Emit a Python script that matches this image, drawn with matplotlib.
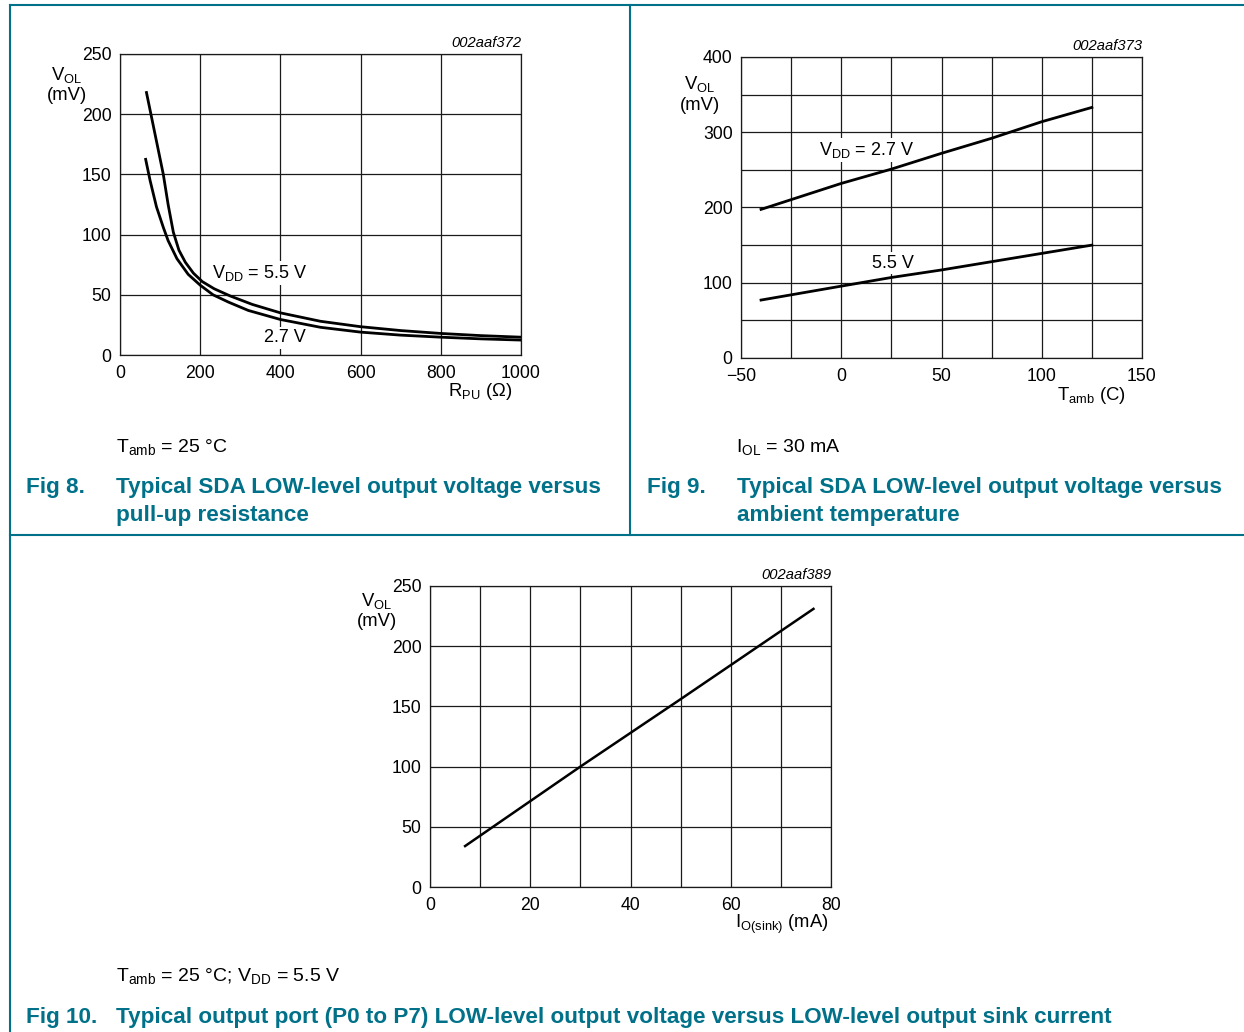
import matplotlib
matplotlib.use("Agg")
import matplotlib.pyplot as plt
from matplotlib.lines import Line2D

# Fig 8: VOL vs pull-up resistance (Tamb = 25 C)
r_pu_55 = [66, 87, 108, 120, 133, 147, 163, 183, 205, 235, 275, 330, 400, 500, 600, 700, 800, 900, 1000]
vol_r_55 = [218, 184, 150, 125, 102, 87, 77, 68, 61, 55, 49, 42, 35, 28, 23.5, 20.3, 17.9, 16.1, 14.8]
r_pu_27 = [64, 75, 91, 108, 120, 142, 170, 200, 232, 270, 320, 400, 500, 600, 700, 800, 900, 1000]
vol_r_27 = [162.5, 145, 123, 106, 95, 80, 67, 58, 50, 44, 37, 29.5, 23, 19, 16.5, 14.8, 13.4, 12.4]

# Fig 9: VOL vs ambient temperature (IOL = 30 mA)
t_amb = [-40, 0, 25, 50, 75, 100, 125]
vol_t_27 = [197.5, 232, 251, 272, 292, 314, 333]
vol_t_55 = [77, 95.5, 107, 117, 128, 139, 150]

# Fig 10: VOL vs sink current
i_sink = [7, 30, 50, 76.5]
vol_i = [34, 100, 156, 231]

W, H = 1244, 1032
TEAL = '#007189'

plt.rcParams['font.family'] = ['Liberation Sans', 'DejaVu Sans']
plt.rcParams['mathtext.fontset'] = 'custom'
plt.rcParams['mathtext.rm'] = 'Liberation Sans'
plt.rcParams['mathtext.it'] = 'Liberation Sans:italic'
plt.rcParams['mathtext.bf'] = 'Liberation Sans:bold'

fig = plt.figure(figsize=(W / 100, H / 100), dpi=100)


def px(x, y):
    return x / W, 1 - y / H


def txt(x, y, s, **kw):
    kw.setdefault('fontsize', 13.3)
    kw.setdefault('va', 'center')
    fig.text(*px(x, y), s, **kw)


def inner(ax, x, y, s):
    # label inside the plot: white box hides grid, curves stay on top
    ax.text(*px(x, y), s, transform=fig.transFigure, ha='left', va='center',
            fontsize=13, zorder=1,
            bbox=dict(facecolor='white', edgecolor='none', pad=1.5))


def make_axes(left, top, right, bottom, xlim, ylim, xt, yt, xlabels=None):
    ax = fig.add_axes([left / W, 1 - bottom / H, (right - left) / W, (bottom - top) / H])
    ax.set_xlim(*xlim)
    ax.set_ylim(*ylim)
    ax.set_xticks(xt)
    ax.set_yticks(yt)
    if xlabels is not None:
        ax.set_xticklabels(xlabels)
    ax.set_axisbelow(True)
    ax.tick_params(length=0, labelsize=12.7)
    ax.tick_params(axis='y', pad=6)
    ax.tick_params(axis='x', pad=7)
    ax.grid(True, color='#1a1a1a', lw=0.9)
    for sp in ax.spines.values():
        sp.set_color('#1a1a1a')
        sp.set_linewidth(0.9)
    return ax


# ---- Fig 8
ax1 = make_axes(120, 54, 521, 355, (0, 1000), (0, 250),
                [0, 200, 400, 600, 800, 1000], [0, 50, 100, 150, 200, 250])
ax1.plot(r_pu_55, vol_r_55, color='black', lw=2.0, zorder=3)
ax1.plot(r_pu_27, vol_r_27, color='black', lw=2.0, zorder=3)
inner(ax1, 212, 273, r'V$_{\mathrm{DD}}$ = 5.5 V')
inner(ax1, 264, 338, '2.7 V')
txt(67, 75, r'V$_{\mathrm{OL}}$', ha='center')
txt(67, 96, '(mV)', ha='center')
txt(512, 392, r'R$_{\mathrm{PU}}$ ($\Omega$)', ha='right')
txt(521, 43, '002aaf372', ha='right', fontsize=10.6, style='italic')
txt(116, 447, r'T$_{\mathrm{amb}}$ = 25 °C', ha='left', fontsize=14)
txt(26, 487, 'Fig 8.', ha='left', fontsize=16.2, fontweight='bold', color=TEAL)
txt(116, 487, 'Typical SDA LOW-level output voltage versus', ha='left',
    fontsize=16.2, fontweight='bold', color=TEAL)
txt(116, 515, 'pull-up resistance', ha='left', fontsize=16.2, fontweight='bold', color=TEAL)

# ---- Fig 9
ax2 = make_axes(741, 57, 1142, 358, (-50, 150), (0, 400),
                [-50, -25, 0, 25, 50, 75, 100, 125, 150], [0, 50, 100, 150, 200, 250, 300, 350, 400],
                ['\u221250', '', '0', '', '50', '', '100', '', '150'])
ax2.set_yticklabels(['0', '', '100', '', '200', '', '300', '', '400'])
ax2.plot(t_amb, vol_t_27, color='black', lw=2.0, zorder=3)
ax2.plot(t_amb, vol_t_55, color='black', lw=2.0, zorder=3)
inner(ax2, 819, 150, r'V$_{\mathrm{DD}}$ = 2.7 V')
inner(ax2, 872, 263, '5.5 V')
txt(700, 84, r'V$_{\mathrm{OL}}$', ha='center')
txt(700, 105, '(mV)', ha='center')
txt(1126, 395, r'T$_{\mathrm{amb}}$ (C)', ha='right')
txt(1142, 46, '002aaf373', ha='right', fontsize=10.6, style='italic')
txt(736, 447, r'I$_{\mathrm{OL}}$ = 30 mA', ha='left', fontsize=14)
txt(647, 487, 'Fig 9.', ha='left', fontsize=16.2, fontweight='bold', color=TEAL)
txt(737, 487, 'Typical SDA LOW-level output voltage versus', ha='left',
    fontsize=16.2, fontweight='bold', color=TEAL)
txt(737, 515, 'ambient temperature', ha='left', fontsize=16.2, fontweight='bold', color=TEAL)

# ---- Fig 10
ax3 = make_axes(430, 586, 831, 887, (0, 80), (0, 250),
                [0, 10, 20, 30, 40, 50, 60, 70, 80], [0, 50, 100, 150, 200, 250],
                ['0', '', '20', '', '40', '', '60', '', '80'])
ax3.plot(i_sink, vol_i, color='black', lw=1.8, zorder=3)
txt(377, 601, r'V$_{\mathrm{OL}}$', ha='center')
txt(377, 622, '(mV)', ha='center')
txt(829, 924, r'I$_{\mathrm{O(sink)}}$ (mA)', ha='right')
txt(831, 575, '002aaf389', ha='right', fontsize=10.6, style='italic')
txt(116, 976, r'T$_{\mathrm{amb}}$ = 25 °C; V$_{\mathrm{DD}}$ = 5.5 V', ha='left', fontsize=14)
txt(26, 1017, 'Fig 10.', ha='left', fontsize=16.2, fontweight='bold', color=TEAL)
txt(116, 1017, 'Typical output port (P0 to P7) LOW-level output voltage versus LOW-level output sink current',
    ha='left', fontsize=16.2, fontweight='bold', color=TEAL)

# frame lines
for (x0, y0, x1, y1) in [(10, 5, W, 5), (10, 5, 10, H), (630, 5, 630, 535), (10, 535, W, 535)]:
    a, b = px(x0, y0)
    c, d = px(x1, y1)
    fig.add_artist(Line2D([a, c], [b, d], color=TEAL, lw=1.5))

fig.savefig('out.png', dpi=100)
